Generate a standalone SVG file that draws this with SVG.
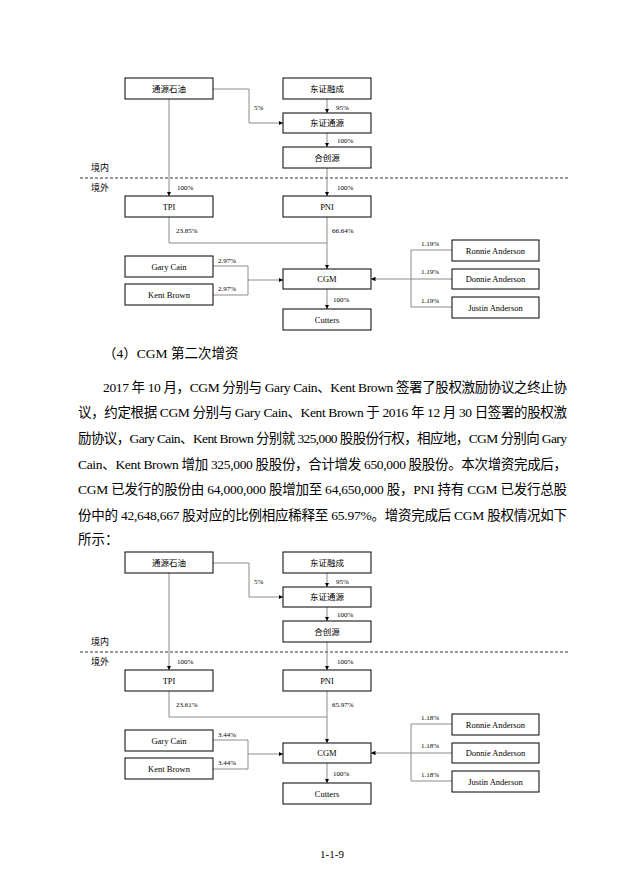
<svg xmlns="http://www.w3.org/2000/svg" width="642" height="890" viewBox="0 0 642 890">
<style>
.box{fill:#fff;stroke:#000;stroke-width:1}
.bt{font-family:"Liberation Serif","Noto Sans CJK SC",serif;font-size:8.5px;text-anchor:middle;fill:#000}
.pct{font-family:"Liberation Serif",serif;font-size:7px;fill:#000}
.zone{font-family:"Liberation Serif","Noto Sans CJK SC",serif;font-size:9px;fill:#000}
.ln{fill:none;stroke:#808080;stroke-width:0.9}
.dash{stroke:#000;stroke-width:0.8;stroke-dasharray:3,2}
.para{font-family:"Liberation Serif","Noto Sans CJK SC",serif;font-size:13.5px;fill:#000}
</style>
<defs>
<marker id="ah" viewBox="0 0 6 6" refX="6" refY="3" markerWidth="4.5" markerHeight="4.5" orient="auto" markerUnits="userSpaceOnUse">
<path d="M0,0 L6,3 L0,6 z" fill="#000"/>
</marker>
<g id="chart">
<line class="dash" x1="80" y1="178" x2="568" y2="178"/>
<text class="zone" x="91" y="171">境内</text>
<text class="zone" x="91" y="191">境外</text>
<g class="connectors">
<path class="ln" d="M169,99 V196" marker-end="url(#ah)"/>
<path class="ln" d="M213,89 H249 V123 H283" marker-end="url(#ah)"/>
<path class="ln" d="M327,99 V113" marker-end="url(#ah)"/>
<path class="ln" d="M327,133 V147" marker-end="url(#ah)"/>
<path class="ln" d="M327,168 V196" marker-end="url(#ah)"/>
<path class="ln" d="M169,217 V243 H327"/>
<path class="ln" d="M327,217 V269" marker-end="url(#ah)"/>
<path class="ln" d="M327,289 V309" marker-end="url(#ah)"/>
<path class="ln" d="M213,266 H248 V295 H213"/>
<path class="ln" d="M248,280 H283" marker-end="url(#ah)"/>
<path class="ln" d="M452,250 H411 V307 H452"/>
<path class="ln" d="M452,279 H371" marker-end="url(#ah)"/>
</g>
</g>
</defs>

<g id="diagram1">
<use href="#chart"/>
<g id="n1-tongyuan"><rect class="box" x="125" y="78" width="88" height="21"/><text class="bt" x="169" y="92">通源石油</text></g>
<g id="n1-dzrc"><rect class="box" x="283" y="78" width="88" height="21"/><text class="bt" x="327" y="92">东证融成</text></g>
<g id="n1-dzty"><rect class="box" x="283" y="113" width="88" height="20"/><text class="bt" x="327" y="126">东证通源</text></g>
<g id="n1-hcy"><rect class="box" x="283" y="147" width="88" height="21"/><text class="bt" x="327" y="161">合创源</text></g>
<g id="n1-tpi"><rect class="box" x="125" y="196" width="88" height="21"/><text class="bt" x="169" y="210">TPI</text></g>
<g id="n1-pni"><rect class="box" x="283" y="196" width="88" height="21"/><text class="bt" x="327" y="210">PNI</text></g>
<g id="n1-gary"><rect class="box" x="125" y="256" width="88" height="21"/><text class="bt" x="169" y="270">Gary Cain</text></g>
<g id="n1-kent"><rect class="box" x="125" y="284" width="88" height="21"/><text class="bt" x="169" y="298">Kent Brown</text></g>
<g id="n1-cgm"><rect class="box" x="283" y="269" width="88" height="20"/><text class="bt" x="327" y="282">CGM</text></g>
<g id="n1-cutters"><rect class="box" x="283" y="309" width="88" height="21"/><text class="bt" x="327" y="323">Cutters</text></g>
<g id="n1-ronnie"><rect class="box" x="452" y="240" width="87" height="21"/><text class="bt" x="495.5" y="254">Ronnie Anderson</text></g>
<g id="n1-donnie"><rect class="box" x="452" y="269" width="87" height="20"/><text class="bt" x="495.5" y="282">Donnie Anderson</text></g>
<g id="n1-justin"><rect class="box" x="452" y="297" width="87" height="21"/><text class="bt" x="495.5" y="311">Justin Anderson</text></g>
<g class="labels">
<text class="pct" x="254" y="110">5%</text>
<text class="pct" x="336" y="110">95%</text>
<text class="pct" x="337" y="143">100%</text>
<text class="pct" x="337" y="190">100%</text>
<text class="pct" x="177" y="190">100%</text>
<text class="pct" x="176" y="233">23.85%</text>
<text class="pct" x="332" y="233">66.64%</text>
<text class="pct" x="218" y="263">2.97%</text>
<text class="pct" x="218" y="291">2.97%</text>
<text class="pct" x="333" y="302">100%</text>
<text class="pct" x="421" y="246">1.19%</text>
<text class="pct" x="421" y="274">1.19%</text>
<text class="pct" x="421" y="303">1.19%</text>
</g>
</g>

<g id="body-text">
<text class="para" x="103" y="358">（4）CGM 第二次增资</text>
<text class="para" x="103" y="392" textLength="464" lengthAdjust="spacing">2017 年 10 月，CGM 分别与 Gary Cain、Kent Brown 签署了股权激励协议之终止协</text>
<text class="para" x="78" y="417" textLength="489" lengthAdjust="spacing">议，约定根据 CGM 分别与 Gary Cain、Kent Brown 于 2016 年 12 月 30 日签署的股权激</text>
<text class="para" x="78" y="443" textLength="489" lengthAdjust="spacing">励协议，Gary Cain、Kent Brown 分别就 325,000 股股份行权，相应地，CGM 分别向 Gary</text>
<text class="para" x="78" y="469" textLength="489" lengthAdjust="spacing">Cain、Kent Brown 增加 325,000 股股份，合计增发 650,000 股股份。本次增资完成后，</text>
<text class="para" x="78" y="494" textLength="489" lengthAdjust="spacing">CGM 已发行的股份由 64,000,000 股增加至 64,650,000 股，PNI 持有 CGM 已发行总股</text>
<text class="para" x="78" y="520" textLength="489" lengthAdjust="spacing">份中的 42,648,667 股对应的比例相应稀释至 65.97%。增资完成后 CGM 股权情况如下</text>
<text class="para" x="78" y="544">所示：</text>
</g>

<g id="diagram2" transform="translate(0,474)">
<use href="#chart"/>
<g id="n2-tongyuan"><rect class="box" x="125" y="78" width="88" height="21"/><text class="bt" x="169" y="92">通源石油</text></g>
<g id="n2-dzrc"><rect class="box" x="283" y="78" width="88" height="21"/><text class="bt" x="327" y="92">东证融成</text></g>
<g id="n2-dzty"><rect class="box" x="283" y="113" width="88" height="20"/><text class="bt" x="327" y="126">东证通源</text></g>
<g id="n2-hcy"><rect class="box" x="283" y="147" width="88" height="21"/><text class="bt" x="327" y="161">合创源</text></g>
<g id="n2-tpi"><rect class="box" x="125" y="196" width="88" height="21"/><text class="bt" x="169" y="210">TPI</text></g>
<g id="n2-pni"><rect class="box" x="283" y="196" width="88" height="21"/><text class="bt" x="327" y="210">PNI</text></g>
<g id="n2-gary"><rect class="box" x="125" y="256" width="88" height="21"/><text class="bt" x="169" y="270">Gary Cain</text></g>
<g id="n2-kent"><rect class="box" x="125" y="284" width="88" height="21"/><text class="bt" x="169" y="298">Kent Brown</text></g>
<g id="n2-cgm"><rect class="box" x="283" y="269" width="88" height="20"/><text class="bt" x="327" y="282">CGM</text></g>
<g id="n2-cutters"><rect class="box" x="283" y="309" width="88" height="21"/><text class="bt" x="327" y="323">Cutters</text></g>
<g id="n2-ronnie"><rect class="box" x="452" y="240" width="87" height="21"/><text class="bt" x="495.5" y="254">Ronnie Anderson</text></g>
<g id="n2-donnie"><rect class="box" x="452" y="269" width="87" height="20"/><text class="bt" x="495.5" y="282">Donnie Anderson</text></g>
<g id="n2-justin"><rect class="box" x="452" y="297" width="87" height="21"/><text class="bt" x="495.5" y="311">Justin Anderson</text></g>
<g class="labels">
<text class="pct" x="254" y="110">5%</text>
<text class="pct" x="336" y="110">95%</text>
<text class="pct" x="337" y="143">100%</text>
<text class="pct" x="337" y="190">100%</text>
<text class="pct" x="177" y="190">100%</text>
<text class="pct" x="176" y="233">23.61%</text>
<text class="pct" x="332" y="233">65.97%</text>
<text class="pct" x="218" y="263">3.44%</text>
<text class="pct" x="218" y="291">3.44%</text>
<text class="pct" x="333" y="302">100%</text>
<text class="pct" x="421" y="246">1.18%</text>
<text class="pct" x="421" y="274">1.18%</text>
<text class="pct" x="421" y="303">1.18%</text>
</g>
</g>

<text x="332" y="858" style="font-family:'Liberation Serif',serif;font-size:11px;text-anchor:middle">1-1-9</text>
</svg>
